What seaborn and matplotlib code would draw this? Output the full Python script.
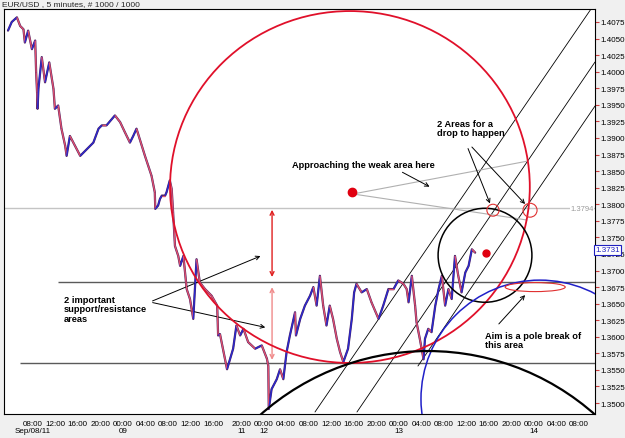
import numpy as np
import pandas as pd
import matplotlib
matplotlib.use("Agg")
import matplotlib.pyplot as plt
import seaborn as sns
from matplotlib.patches import Ellipse
from matplotlib.collections import LineCollection

sns.set_style("white")
plt.rcParams['font.family'] = ['Liberation Sans', 'DejaVu Sans']

# price path (bar number, price)
bars = [0, 8, 19, 26, 33, 36, 43, 51, 58, 60, 62, 63, 65, 72, 79, 88, 97, 100, 107, 114,
        122, 125, 132, 143, 154, 168, 182, 193, 200, 210, 228, 239, 249, 260, 267, 274, 281, 292, 299, 306,
        313, 314, 320, 324, 328, 335, 338, 345, 349, 352, 356, 363, 367, 374, 381, 388, 395, 402, 409, 420,
        434, 446, 448, 452, 467, 480, 487, 495, 502, 512, 527, 541, 552, 555, 556, 562, 573, 580, 587, 594,
        601, 612, 614, 623, 633, 644, 651, 658, 665, 672, 679, 686, 693, 701, 708, 715, 725, 733, 738, 743,
        754, 765, 775, 790, 800, 811, 822, 832, 843, 850, 854, 861, 868, 871, 878, 886, 889, 896, 903, 911,
        918, 925, 932, 939, 946, 953, 960, 967, 975, 982, 989, 996]
prices = [1.4062, 1.4075, 1.4082, 1.4069, 1.4064, 1.4044, 1.4062, 1.4034, 1.4047, 1.3999, 1.3969, 1.3944, 1.3975, 1.4022, 1.3984, 1.4014, 1.3974, 1.3944, 1.3949, 1.3914,
          1.3888, 1.3873, 1.3903, 1.3888, 1.3873, 1.3883, 1.3893, 1.3914, 1.3919, 1.3919, 1.3934, 1.3924, 1.3909, 1.3893, 1.3903, 1.3914, 1.3898, 1.3873, 1.3858, 1.3843,
          1.3818, 1.3793, 1.3798, 1.3808, 1.3813, 1.3813, 1.3818, 1.3836, 1.3823, 1.3788, 1.3737, 1.3722, 1.3707, 1.3722, 1.3672, 1.3657, 1.3627, 1.3717, 1.3682, 1.3672,
          1.3662, 1.3647, 1.3602, 1.3604, 1.3551, 1.3582, 1.3617, 1.3602, 1.3612, 1.3592, 1.3582, 1.3587, 1.3567, 1.3556, 1.3491, 1.3521, 1.3536, 1.3551, 1.3536, 1.3577,
          1.3602, 1.3637, 1.3602, 1.3627, 1.3647, 1.3662, 1.3675, 1.3647, 1.3692, 1.3647, 1.3617, 1.3647, 1.3627, 1.3597, 1.3577, 1.3562, 1.3582, 1.3627, 1.3667, 1.3680,
          1.3667, 1.3672, 1.3652, 1.3627, 1.3647, 1.3672, 1.3672, 1.3685, 1.3680, 1.3672, 1.3652, 1.3692, 1.3647, 1.3622, 1.3597, 1.3566, 1.3597, 1.3612, 1.3607, 1.3647,
          1.3672, 1.3692, 1.3647, 1.3672, 1.3657, 1.3722, 1.3692, 1.3667, 1.3697, 1.3707, 1.3732, 1.3727]

tick_bars = [53, 101, 149, 197, 245, 293, 341, 389, 437, 497, 545, 593, 641, 689, 737, 785,
             833, 881, 929, 977, 1025, 1073, 1121, 1169, 1217]
tick_labels = ["08:00\nSep/08/11", "12:00", "16:00", "20:00", "00:00\n09", "04:00", "08:00", "12:00",
               "16:00", "20:00\n11", "00:00\n12", "04:00", "08:00", "12:00", "16:00", "20:00",
               "00:00\n13", "04:00", "08:00", "12:00", "16:00", "20:00", "00:00\n14", "04:00", "08:00"]
price_ticks = [1.3500, 1.3525, 1.3550, 1.3575, 1.3600, 1.3625, 1.3650, 1.3675, 1.3700, 1.3725,
               1.3750, 1.3775, 1.3800, 1.3825, 1.3850, 1.3875, 1.3900, 1.3925, 1.3950, 1.3975,
               1.4000, 1.4025, 1.4050, 1.4075]

# horizontal levels
weak_level = 1.3794
upper_sr = 1.3682
lower_sr = 1.3560
last_price = 1.3731

df = pd.DataFrame({"bar": bars, "price": prices})

fig = plt.figure(figsize=(6.25, 4.39), dpi=100, facecolor="#f0f0f0")
ax = fig.add_axes([4 / 625, 24 / 439, 591 / 625, 405 / 439])
ax.set_facecolor("white")

# levels
ax.axhline(weak_level, color="#c4c4c4", lw=1, zorder=1)
ax.hlines(upper_sr, 107, 1260, color="#5a5a5a", lw=1, zorder=1)
ax.hlines(lower_sr, 26, 1260, color="#5a5a5a", lw=1, zorder=1)

# price
sns.lineplot(data=df, x="bar", y="price", color="#4a2060", lw=1.6, sort=False, ax=ax, zorder=3)
pts = df[["bar", "price"]].to_numpy()
segs = np.stack([pts[:-1], pts[1:]], axis=1)
cols = ["#2a2ad0" if d > 0 else "#e0506e" for d in np.diff(df["price"])]
ax.add_collection(LineCollection(segs, colors=cols, linewidths=1.0, zorder=4))

# channel lines
for xs, ys in [([654.5, 1243], [1.34865, 1.40946]),
               ([744, 1251.5], [1.34865, 1.40146]),
               ([874, 1251.5], [1.35559, 1.39482])]:
    ax.plot(xs, ys, color="black", lw=0.6, zorder=2)

# circles (sized in bars / price so they look round on screen)
ax.add_patch(Ellipse((729, 1.3826), 767, 0.0531, fill=False, ec="#e0102a", lw=1.3, zorder=5))
ax.add_patch(Ellipse((1017, 1.3723), 200, 0.01418, fill=False, ec="black", lw=1.1, zorder=5))
ax.add_patch(Ellipse((1134, 1.3506), 507, 0.0359, fill=False, ec="#2020c8", lw=1.1, zorder=5))
ax.add_patch(Ellipse((895, 1.3198), 1074, 0.0761, fill=False, ec="black", lw=1.6, zorder=5))
ax.add_patch(Ellipse((1034, 1.3791), 26, 0.0018, fill=False, ec="#e03030", lw=0.8, zorder=5))
ax.add_patch(Ellipse((1113, 1.3791), 30, 0.0021, fill=False, ec="#e03030", lw=0.8, zorder=5))
ax.add_patch(Ellipse((1124, 1.3675), 128, 0.00136, fill=False, ec="#e03030", lw=0.8, zorder=5))
ax.plot([733], [1.3818], "o", color="#e00010", ms=6, zorder=6)
ax.plot([1019], [1.3726], "o", color="#e00010", ms=5, zorder=6)

# gray rays from the dot
ax.plot([735.5, 1108.6], [1.38155, 1.38652], color="#b0b0b0", lw=0.8, zorder=2)
ax.plot([735.5, 1106.5], [1.38155, 1.37762], color="#b0b0b0", lw=0.8, zorder=2)

# red double arrows between levels
ax.annotate("", xy=(563, 1.3686), xytext=(563, 1.37958),
            arrowprops=dict(arrowstyle="<->", color="#e02020", lw=1, mutation_scale=7))
ax.annotate("", xy=(563, 1.3561), xytext=(563, 1.3679),
            arrowprops=dict(arrowstyle="<->", color="#f08a8a", lw=1, mutation_scale=7))

# notes
bold = dict(fontsize=6.7, fontweight="bold", color="black", linespacing=1.05)
ax.text(119, 1.3663, "2 important\nsupport/resistance\nareas", va="top", ha="left", **bold)
arrow = dict(arrowstyle="->", color="black", lw=0.7, mutation_scale=7)
ax.annotate("", xy=(543.7, 1.37234), xytext=(302.7, 1.36525), arrowprops=arrow)
ax.annotate("", xy=(554.3, 1.36133), xytext=(302.7, 1.36525), arrowprops=arrow)

ax.text(605, 1.38607, "Approaching the weak area here", va="center", ha="left", **bold)
ax.annotate("", xy=(904, 1.38245), xytext=(835.7, 1.38502), arrowprops=arrow)

ax.text(915, 1.3929, "2 Areas for a\ndrop to happen", va="top", ha="left", **bold)
ax.annotate("", xy=(1029.8, 1.37973), xytext=(978.6, 1.38879), arrowprops=arrow)
ax.annotate("", xy=(1106.5, 1.37973), xytext=(985, 1.38894), arrowprops=arrow)

ax.text(1017, 1.3609, "Aim is a pole break of\nthis area", va="top", ha="left", **bold)
ax.annotate("", xy=(1106.5, 1.3666), xytext=(1042.5, 1.36163), arrowprops=arrow)

ax.text(1249, weak_level, "1.3794", ha="right", va="center", fontsize=5.5, color="#9a9a9a",
        bbox=dict(fc="white", ec="none", pad=0.3), zorder=7)

# axes
ax.set_xlim(-8.5, 1251.5)
ax.set_ylim(1.34835, 1.40946)
ax.yaxis.tick_right()
ax.set_yticks(price_ticks)
ax.set_yticklabels([f"{p:.4f}" for p in price_ticks])
ax.set_xticks(tick_bars)
ax.set_xticklabels(tick_labels, linespacing=1.15)
ax.tick_params(axis="both", colors="#d04040", length=3, width=0.8, labelsize=5.8,
               labelcolor="black", pad=1)
ax.set_xlabel("")
ax.set_ylabel("")
for s in ax.spines.values():
    s.set_color("black")
    s.set_linewidth(0.8)

ax.text(1.0, last_price, "1.3731", transform=ax.get_yaxis_transform(), ha="left", va="center",
        fontsize=5.8, color="#2020c0", clip_on=False,
        bbox=dict(fc="white", ec="#2020c0", lw=0.8, pad=0.8), zorder=8)

fig.text(0.003, 0.997, "EUR/USD , 5 minutes, # 1000 / 1000", ha="left", va="top", fontsize=6)

fig.savefig("out.png", dpi=100, facecolor=fig.get_facecolor())
